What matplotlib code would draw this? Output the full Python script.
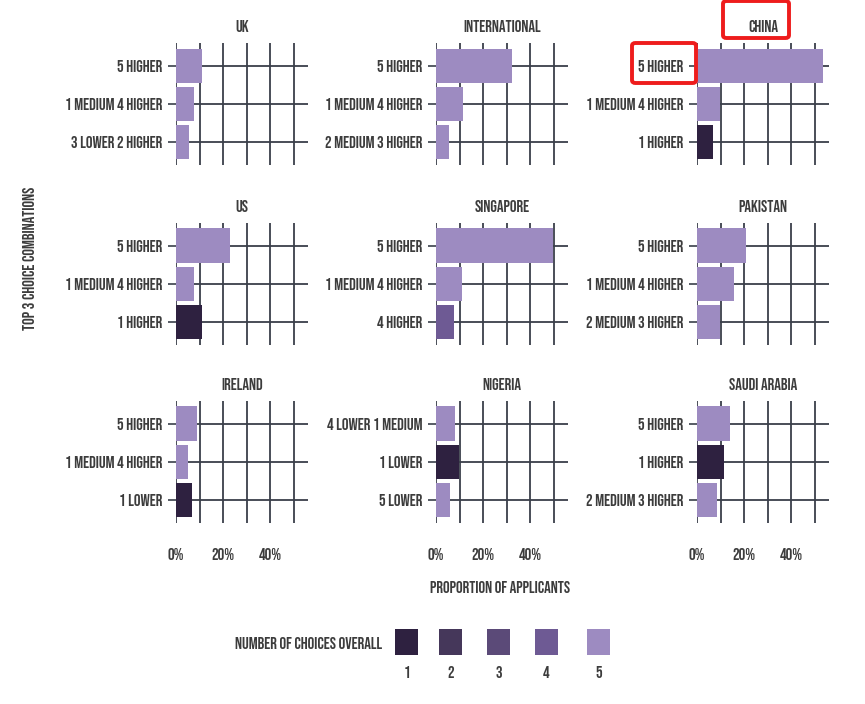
import numpy as np
import matplotlib.pyplot as plt
from matplotlib.patches import FancyBboxPatch, Rectangle

plt.rcParams['font.family'] = ['Bebas Neue', 'Pathway Gothic One', 'DejaVu Sans']

countries = ['UK', 'INTERNATIONAL', 'CHINA',
             'US', 'SINGAPORE', 'PAKISTAN',
             'IRELAND', 'NIGERIA', 'SAUDI ARABIA']

combos = [
    ['5 HIGHER', '1 MEDIUM 4 HIGHER', '3 LOWER 2 HIGHER'],
    ['5 HIGHER', '1 MEDIUM 4 HIGHER', '2 MEDIUM 3 HIGHER'],
    ['5 HIGHER', '1 MEDIUM 4 HIGHER', '1 HIGHER'],
    ['5 HIGHER', '1 MEDIUM 4 HIGHER', '1 HIGHER'],
    ['5 HIGHER', '1 MEDIUM 4 HIGHER', '4 HIGHER'],
    ['5 HIGHER', '1 MEDIUM 4 HIGHER', '2 MEDIUM 3 HIGHER'],
    ['5 HIGHER', '1 MEDIUM 4 HIGHER', '1 LOWER'],
    ['4 LOWER 1 MEDIUM', '1 LOWER', '5 LOWER'],
    ['5 HIGHER', '1 HIGHER', '2 MEDIUM 3 HIGHER'],
]

# proportion of applicants (%)
shares = [
    [11.0, 7.7, 5.6],
    [32.1, 11.4, 5.5],
    [53.6, 9.6, 6.7],
    [22.9, 7.7, 10.9],
    [49.7, 10.9, 7.7],
    [20.7, 15.5, 9.8],
    [8.9, 5.1, 6.7],
    [8.1, 9.9, 5.9],
    [13.9, 11.6, 8.4],
]

# number of choices overall for each combination
n_choices = [
    [5, 5, 5],
    [5, 5, 5],
    [5, 5, 1],
    [5, 5, 1],
    [5, 5, 4],
    [5, 5, 5],
    [5, 5, 1],
    [5, 1, 5],
    [5, 1, 5],
]

levels = [1, 2, 3, 4, 5]
palette = {1: '#2e2140', 2: '#45375a', 3: '#5b4a78', 4: '#6e5a94', 5: '#9d8bc1'}

W, H = 865, 704
grid_col = '#3a3f4a'
txt_col = '#3c3c3c'
fs = 12

fig = plt.figure(figsize=(W / 100, H / 100), dpi=100)

col_left = [176, 436, 697]
row_top = [43, 222.7, 400.7]
pw, ph = 132, 122

for i, name in enumerate(countries):
    r, c = divmod(i, 3)
    ax = fig.add_axes([col_left[c] / W, 1 - (row_top[r] + ph) / H, pw / W, ph / H])
    ypos = np.arange(3)[::-1]
    ax.set_xlim(0, 56)
    ax.set_ylim(-0.6, 2.6)
    for gx in range(0, 60, 10):
        ax.axvline(gx, color=grid_col, lw=1.3, zorder=1)
    for yy in ypos:
        ax.axhline(yy, color=grid_col, lw=1.3, zorder=1)
    ax.barh(ypos, shares[i], height=0.9,
            color=[palette[k] for k in n_choices[i]], zorder=2)
    for s in ax.spines.values():
        s.set_visible(False)
    ax.set_yticks(ypos)
    ax.set_yticklabels(combos[i], fontsize=fs, color=txt_col)
    ax.tick_params(axis='y', length=6, width=1.2, color=grid_col, pad=4)
    ax.set_xticks([0, 20, 40])
    if r == 2:
        ax.set_xticklabels(['0%', '20%', '40%'], fontsize=fs, color=txt_col)
        ax.tick_params(axis='x', length=0, pad=18)
    else:
        ax.set_xticklabels([])
        ax.tick_params(axis='x', length=0)
    ax.set_title(name, fontsize=fs, color=txt_col, pad=8)
    ax.patch.set_alpha(0)

fig.text(29 / W, 1 - 258 / H, 'TOP 3 CHOICE COMBINATIONS', rotation=90,
         ha='center', va='center', fontsize=fs, color=txt_col)
fig.text(500 / W, 1 - 587 / H, 'PROPORTION OF APPLICANTS',
         ha='center', va='center', fontsize=fs, color=txt_col)

# legend
fig.text(382 / W, 1 - 643 / H, 'NUMBER OF CHOICES OVERALL',
         ha='right', va='center', fontsize=fs, color=txt_col)
key_x = [395, 439, 487, 535, 587]
for k, kx in zip(levels, key_x):
    fig.patches.append(Rectangle((kx / W, 1 - 655 / H), 23 / W, 26 / H,
                                 transform=fig.transFigure, facecolor=palette[k],
                                 edgecolor='none'))
    fig.text((kx + 11.5) / W, 1 - 672 / H, str(k), ha='center', va='center',
             fontsize=fs, color=txt_col)

# highlight boxes
for (x0, y0, x1, y1) in [(723, 1, 789, 38), (632, 43, 696, 83)]:
    fig.patches.append(FancyBboxPatch((x0 / W, 1 - y1 / H), (x1 - x0) / W, (y1 - y0) / H,
                                      boxstyle='round,pad=0,rounding_size=0.004',
                                      transform=fig.transFigure, fill=False,
                                      edgecolor='#ee1c1c', lw=2.8))

fig.savefig('out.png', dpi=100)
